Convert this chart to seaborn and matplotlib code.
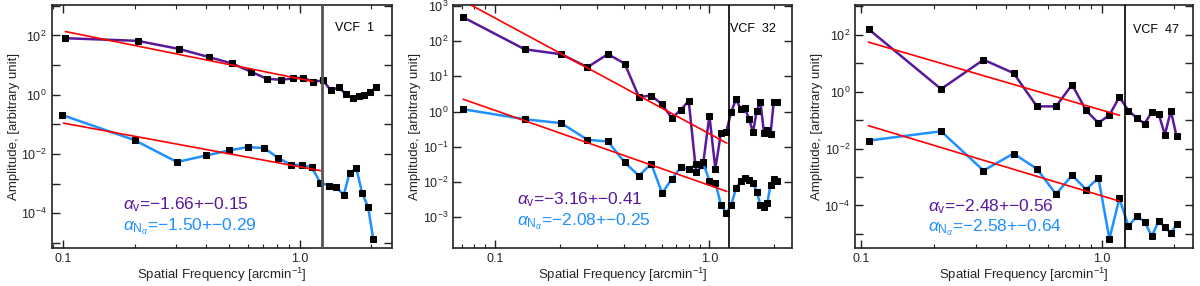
import numpy as np
import matplotlib
matplotlib.use('Agg')
import matplotlib.pyplot as plt
import matplotlib.ticker as mticker
import seaborn as sns

# panel 1 (VCF 1)
freq_v1 = [0.102, 0.206, 0.309, 0.413, 0.516, 0.621, 0.723, 0.828, 0.931, 1.03,
           1.14, 1.25, 1.35, 1.46, 1.56, 1.67, 1.77, 1.87, 1.98, 2.09]
amp_v1 = [81, 66, 35, 18.6, 11.4, 6.0, 3.5, 3.2, 3.55, 3.8,
          2.7, 3.1, 1.4, 1.8, 1.05, 0.77, 0.9, 1.02, 1.2, 1.8]
freq_n1 = [0.0984, 0.200, 0.302, 0.402, 0.502, 0.601, 0.707, 0.81, 0.914, 1.02,
           1.12, 1.22, 1.32, 1.42, 1.53, 1.62, 1.73, 1.83, 1.94, 2.04]
amp_n1 = [0.21, 0.0296, 0.0054, 0.009, 0.0133, 0.0172, 0.0159, 0.0073, 0.0044, 0.0043,
          0.0036, 0.00108, 0.00087, 0.00077, 0.00042, 0.0023, 0.0033, 0.00049, 0.000163, 1.36e-5]
fit_v1_x = [0.102, 1.14]
fit_v1_y = [136, 2.8]
fit_n1_x = [0.1, 1.22]
fit_n1_y = [0.111, 0.00276]

# panel 2 (VCF 32)
freq_v2 = [0.0712, 0.1375, 0.2038, 0.2701, 0.3364, 0.4027, 0.469, 0.5353, 0.6016, 0.6679,
           0.7342, 0.8005, 0.8668, 0.9331, 0.9994, 1.0657, 1.132, 1.1983, 1.2646, 1.3309,
           1.3972, 1.4635, 1.5298, 1.5961, 1.6624, 1.7287, 1.795, 1.8613, 1.9276, 1.9939, 2.0602]
amp_v2 = [477, 59, 42.5, 18.2, 43, 23, 2.6, 2.85, 1.6, 0.65,
          1.11, 2.0, 0.019, 0.03, 0.77, 0.0236, 0.25, 0.27, 1.0, 2.24,
          1.19, 1.24, 0.62, 0.26, 1.04, 1.92, 0.25, 0.29, 0.23, 1.88, 1.92]
freq_n2 = freq_v2
amp_n2 = [1.16, 0.605, 0.467, 0.157, 0.141, 0.0357, 0.0149, 0.0327, 0.0048, 0.012,
          0.0257, 0.023, 0.032, 0.036, 0.0108, 0.0096, 0.0022, 0.0013, 0.0022, 0.0067,
          0.0103, 0.0128, 0.0115, 0.0092, 0.0053, 0.0022, 0.0019, 0.0025, 0.0083, 0.012, 0.0103]
fit_v2_x = [0.0712, 1.205]
fit_v2_y = [1400, 0.126]
fit_n2_x = [0.0711, 1.205]
fit_n2_y = [2.24, 0.00536]

# panel 3 (VCF 47)
freq_v3 = [0.1075, 0.215, 0.3225, 0.43, 0.5375, 0.645, 0.7525, 0.86, 0.9675, 1.075,
           1.1825, 1.29, 1.3975, 1.505, 1.6125, 1.72, 1.8275, 1.935, 2.0425]
amp_v3 = [158, 1.24, 13.3, 4.5, 0.305, 0.305, 1.76, 0.221, 0.079, 0.151,
          0.65, 0.215, 0.119, 0.075, 0.194, 0.169, 0.031, 0.215, 0.027]
freq_n3 = freq_v3
amp_n3 = [0.0191, 0.0406, 0.00169, 0.00668, 0.00194, 0.00025, 0.00116, 0.000364, 0.00093, 6.7e-6,
          0.000176, 1.88e-5, 4.2e-5, 2.67e-5, 8.4e-6, 2.8e-5, 1.78e-5, 1.04e-5, 2.15e-5]
fit_v3_x = [0.1073, 1.184]
fit_v3_y = [55.3, 0.148]
fit_n3_x = [0.1073, 1.184]
fit_n3_y = [0.064, 1.42e-4]

vcf_labels = ['VCF  1', 'VCF  32', 'VCF  47']
vcf_pos = [1.235, 1.24, 1.25]
alpha_v_txt = ['-1.66+-0.15', '-3.16+-0.41', '-2.48+-0.56']
alpha_n_txt = ['-1.50+-0.29', '-2.08+-0.25', '-2.58+-0.64']

sns.set_style('ticks')
plt.rcParams['font.family'] = ['Liberation Sans', 'DejaVu Sans']
plt.rcParams['mathtext.fontset'] = 'custom'
plt.rcParams['mathtext.rm'] = 'Liberation Sans'
plt.rcParams['mathtext.it'] = 'Liberation Sans:italic'

PURPLE = '#5a189a'
BLUE = '#1e90ff'

panels = [
    dict(fv=freq_v1, av=amp_v1, fn=freq_n1, an=amp_n1, fvx=fit_v1_x, fvy=fit_v1_y,
         fnx=fit_n1_x, fny=fit_n1_y, xlim=(0.0893, 2.44), ylim=(6.8e-6, 1070),
         rect=[0.0431, 0.1329, 0.2833, 0.8497], lab_every=2, vcol='#555555', vlw=2.0,
         txt_x=0.21, txt_y=(0.177, 0.086), vcf_xy=(0.833, 0.905)),
    dict(fv=freq_v2, av=amp_v2, fn=freq_n2, an=amp_n2, fvx=fit_v2_x, fvy=fit_v2_y,
         fnx=fit_n2_x, fny=fit_n2_y, xlim=(0.064, 2.42), ylim=(1.32e-4, 1070),
         rect=[0.3778, 0.1329, 0.282, 0.8497], lab_every=1, vcol='black', vlw=1.2,
         txt_x=0.188, txt_y=(0.198, 0.107), vcf_xy=(0.817, 0.90)),
    dict(fv=freq_v3, av=amp_v3, fn=freq_n3, an=amp_n3, fvx=fit_v3_x, fvy=fit_v3_y,
         fnx=fit_n3_x, fny=fit_n3_y, xlim=(0.0944, 2.40), ylim=(3.2e-6, 1120),
         rect=[0.7125, 0.1329, 0.282, 0.8497], lab_every=2, vcol='black', vlw=1.2,
         txt_x=0.217, txt_y=(0.17, 0.084), vcf_xy=(0.8226, 0.897)),
]

fig = plt.figure(figsize=(12, 2.86), dpi=100)

for i, p in enumerate(panels):
    ax = fig.add_axes(p['rect'])
    ax.set_xscale('log')
    ax.set_yscale('log')

    sns.lineplot(x=p['fv'], y=p['av'], ax=ax, color=PURPLE, lw=1.8, sort=False,
                 estimator=None, marker='s', markersize=5, markerfacecolor='black',
                 markeredgecolor='black', zorder=3)
    sns.lineplot(x=p['fn'], y=p['an'], ax=ax, color=BLUE, lw=1.8, sort=False,
                 estimator=None, marker='s', markersize=5, markerfacecolor='black',
                 markeredgecolor='black', zorder=3)
    sns.lineplot(x=p['fvx'], y=p['fvy'], ax=ax, color='red', lw=1.2, sort=False,
                 estimator=None, zorder=4)
    sns.lineplot(x=p['fnx'], y=p['fny'], ax=ax, color='red', lw=1.2, sort=False,
                 estimator=None, zorder=4)
    ax.axvline(vcf_pos[i], color=p['vcol'], lw=p['vlw'], zorder=5)

    ax.set_xlim(*p['xlim'])
    ax.set_ylim(*p['ylim'])

    ax.xaxis.set_major_locator(mticker.FixedLocator([0.1, 1.0]))
    ax.xaxis.set_major_formatter(mticker.FixedFormatter(['0.1', '1.0']))
    ax.xaxis.set_minor_locator(mticker.LogLocator(base=10, subs=np.arange(2, 10), numticks=20))
    ax.xaxis.set_minor_formatter(mticker.NullFormatter())

    ax.yaxis.set_major_locator(mticker.LogLocator(base=10, subs=(1.0,), numticks=20))
    step = p['lab_every']
    ax.yaxis.set_major_formatter(mticker.FuncFormatter(
        lambda v, pos, step=step: (r'$10^{%d}$' % round(np.log10(v)))
        if round(np.log10(v)) % step == 0 else ''))
    ax.yaxis.set_minor_locator(mticker.NullLocator())

    ax.tick_params(which='both', direction='in', top=True, right=True, labelsize=9,
                   color='#222222')
    ax.tick_params(which='major', length=6, width=1)
    ax.tick_params(which='minor', length=3, width=0.8)
    for s in ax.spines.values():
        s.set_linewidth(1.2)
        s.set_color('#222222')

    ax.set_xlabel('Spatial Frequency [arcmin$^{-1}$]', fontsize=9.5, labelpad=1)
    ax.set_ylabel('Amplitude, [arbitrary unit]', fontsize=9.5, labelpad=1)

    ax.text(p['txt_x'], p['txt_y'][0],
            r'$\alpha_{\mathrm{v}}$=' + alpha_v_txt[i].replace('-', '\u2212'),
            transform=ax.transAxes, color=PURPLE, fontsize=12.5, va='center')
    ax.text(p['txt_x'], p['txt_y'][1],
            r'$\alpha_{\mathrm{N}_{\alpha}}$=' + alpha_n_txt[i].replace('-', '\u2212'),
            transform=ax.transAxes, color=BLUE, fontsize=12.5, va='center')
    ax.text(p['vcf_xy'][0], p['vcf_xy'][1], vcf_labels[i], transform=ax.transAxes,
            fontsize=9, va='center', ha='left', color='black')

fig.savefig('out.png', dpi=100)
